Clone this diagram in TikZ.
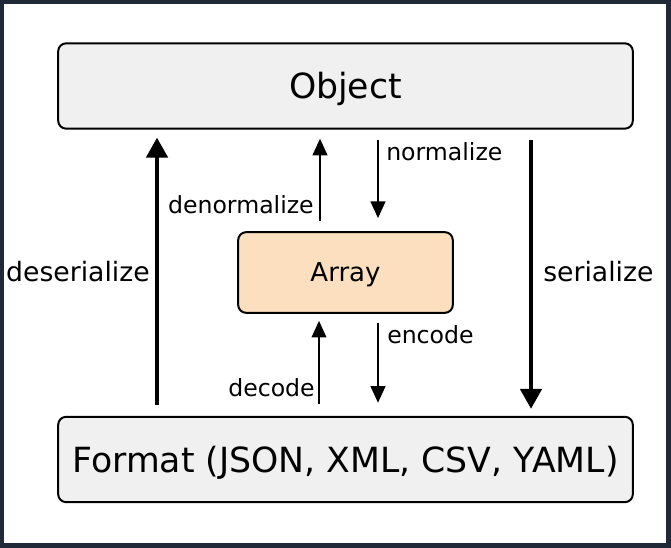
\documentclass[tikz,border=0pt]{standalone}
\usepackage{fontspec}
\setmainfont{DejaVu Sans}
\usetikzlibrary{arrows.meta}
\definecolor{framec}{HTML}{1F2937}
\definecolor{boxgray}{HTML}{F0F0F0}
\definecolor{peach}{HTML}{FCDFBF}
\tikzset{
  px/.style={x=0.75pt,y=-0.75pt},
  bigbox/.style={draw=black,line width=1.5pt,rounded corners=6pt,fill=boxgray,
    minimum width=431pt,minimum height=64pt,inner sep=0pt,text height=19pt,text depth=0pt,
    font=\fontsize{26pt}{30pt}\selectfont},
  arrbox/.style={draw=black,line width=1.5pt,rounded corners=6pt,fill=peach,
    minimum width=161pt,minimum height=60.5pt,inner sep=0pt,text height=14.2pt,text depth=0pt,
    font=\fontsize{19.5pt}{23pt}\selectfont},
  thickarrow/.style={line width=3pt,-{Triangle[width=16pt,length=15pt]}},
  thinarrow/.style={line width=1.5pt,-{Triangle[width=11pt,length=12.5pt]}},
  biglabel/.style={inner sep=0pt,font=\fontsize{20pt}{24pt}\selectfont},
  smalllabel/.style={inner sep=0pt,font=\fontsize{17.7pt}{21pt}\selectfont},
}
\begin{document}
\begin{tikzpicture}[px]
\fill[framec] (0,0) rectangle (671,548);
\fill[white] (4,4) rectangle (666,543);
\useasboundingbox (0,0) rectangle (671,548);

\node[bigbox] (obj) at (345.5,86) {Object};
\node[arrbox] (arr) at (345.5,272.5) {Array};
\node[bigbox] (fmt) at (345.5,459.5) {Format (JSON, XML, CSV, YAML)};

\coordinate (xdes) at (157,0);
\coordinate (xden) at (320,0);
\coordinate (xnor) at (378,0);
\coordinate (xser) at (531,0);
\coordinate (xdec) at (319,0);
\coordinate (xenc) at (378,0);

\draw[thickarrow,shorten <=8.25pt,shorten >=6pt] (fmt.north -| xdes) -- (obj.south -| xdes);
\draw[thinarrow,shorten <=7.5pt,shorten >=6.75pt] (arr.north -| xden) -- (obj.south -| xden);
\draw[thinarrow,shorten <=7.5pt,shorten >=9.75pt] (obj.south -| xnor) -- (arr.north -| xnor);
\draw[thickarrow,shorten <=7.5pt,shorten >=5.25pt] (obj.south -| xser) -- (fmt.north -| xser);
\draw[thinarrow,shorten <=9pt,shorten >=5.25pt] (fmt.north -| xdec) -- (arr.south -| xdec);
\draw[thinarrow,shorten <=6.75pt,shorten >=9.75pt] (arr.south -| xenc) -- (fmt.north -| xenc);

\node[biglabel] (ldes) at (78,272) {deserialize};
\node[biglabel,anchor=west] (lser) at (543,272) {serialize};
\node[smalllabel,anchor=east] (lden) at (314,205) {denormalize};
\node[smalllabel,anchor=west] (lnor) at (386,152) {normalize};
\node[smalllabel,anchor=west] (lenc) at (387,335) {encode};
\node[smalllabel,anchor=east] (ldec) at (315,388) {decode};
\end{tikzpicture}
\end{document}
